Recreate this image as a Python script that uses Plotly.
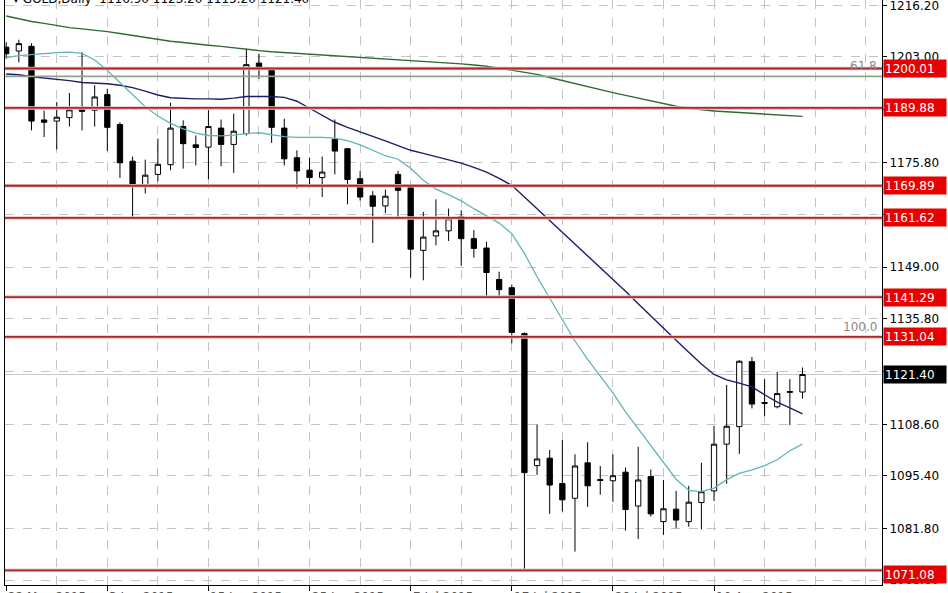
import plotly.graph_objects as go

# ---------------- data ----------------
bar_index = list(range(64))

opens = [1205.5, 1204.5, 1205.7, 1186.8, 1186.5, 1187.4, 1189.5, 1189.3, 1193.3, 1185.6,
         1176.2, 1170.0, 1172.8, 1175.3, 1185.1, 1180.4, 1179.8, 1184.7, 1180.5, 1183.3,
         1201.4, 1199.7, 1184.7, 1177.1, 1173.9, 1172.0, 1181.8, 1179.4, 1171.7, 1167.3,
         1164.7, 1172.8, 1169.4, 1153.3, 1157.0, 1158.3, 1162.0, 1156.3, 1153.9, 1145.8,
         1143.7, 1131.9, 1098.0, 1099.9, 1093.4, 1089.6, 1098.7, 1094.4, 1094.1, 1096.3,
         1087.6, 1095.2, 1083.6, 1086.8, 1083.6, 1088.5, 1091.5, 1103.5, 1108.0, 1124.7,
         1114.2, 1113.1, 1116.8, 1116.9]
highs = [1206.8, 1207.4, 1206.5, 1189.2, 1191.4, 1193.7, 1204.2, 1195.7, 1194.8, 1186.2,
         1177.4, 1176.6, 1182.0, 1191.2, 1186.7, 1182.8, 1189.3, 1186.9, 1188.4, 1205.1,
         1203.8, 1200.4, 1187.1, 1179.0, 1177.1, 1177.4, 1186.9, 1179.6, 1173.7, 1168.5,
         1168.9, 1173.7, 1169.7, 1163.2, 1166.4, 1164.0, 1163.6, 1158.5, 1155.5, 1147.8,
         1144.5, 1132.2, 1108.6, 1102.0, 1104.6, 1100.9, 1104.0, 1097.9, 1100.9, 1097.5,
         1102.8, 1097.0, 1094.3, 1091.5, 1092.8, 1098.7, 1108.2, 1118.7, 1125.1, 1125.9,
         1120.2, 1122.1, 1120.2, 1123.2]
lows = [1202.5, 1201.6, 1184.1, 1182.4, 1179.2, 1185.1, 1184.1, 1185.1, 1178.8, 1171.9,
        1161.6, 1167.9, 1171.0, 1173.9, 1174.3, 1175.1, 1171.5, 1174.9, 1173.2, 1182.8,
        1197.4, 1180.9, 1175.1, 1169.2, 1169.7, 1167.0, 1172.8, 1165.1, 1166.1, 1155.2,
        1162.9, 1161.7, 1146.3, 1145.6, 1154.6, 1155.7, 1149.3, 1151.4, 1141.3, 1141.0,
        1129.4, 1071.1, 1095.6, 1085.6, 1086.2, 1075.9, 1087.4, 1090.5, 1088.7, 1081.3,
        1079.1, 1084.9, 1080.2, 1081.9, 1082.3, 1081.6, 1088.9, 1093.3, 1101.0, 1112.7,
        1110.7, 1112.7, 1108.4, 1115.2]
closes = [1203.8, 1206.4, 1186.5, 1186.2, 1187.5, 1189.4, 1189.0, 1192.7, 1184.9, 1175.8,
          1169.8, 1172.6, 1175.4, 1184.7, 1180.7, 1179.7, 1185.1, 1180.5, 1183.9, 1201.0,
          1200.0, 1184.9, 1176.8, 1173.7, 1172.0, 1173.4, 1178.8, 1171.5, 1167.0, 1164.6,
          1167.2, 1168.7, 1153.6, 1156.7, 1158.3, 1161.4, 1156.3, 1153.8, 1147.6, 1143.2,
          1132.2, 1096.2, 1099.7, 1093.0, 1089.2, 1097.9, 1092.8, 1094.2, 1095.4, 1086.7,
          1094.3, 1085.6, 1086.9, 1084.0, 1088.6, 1091.3, 1103.5, 1108.1, 1124.8, 1113.8,
          1114.0, 1116.5, 1117.0, 1121.4]

ma_slow = [1213.5, 1212.8, 1212.1, 1211.6, 1211.0, 1210.5, 1210.2, 1209.9, 1209.5, 1209.0,
           1208.5, 1208.0, 1207.5, 1207.0, 1206.7, 1206.3, 1206.0, 1205.7, 1205.3, 1205.0,
           1204.6, 1204.3, 1204.1, 1203.9, 1203.7, 1203.5, 1203.3, 1203.1, 1202.9, 1202.7,
           1202.5, 1202.3, 1202.0, 1201.8, 1201.6, 1201.4, 1201.2, 1200.9, 1200.6, 1200.1,
           1199.5, 1199.0, 1198.5, 1197.7, 1196.9, 1196.1, 1195.3, 1194.5, 1193.8, 1193.1,
           1192.4, 1191.7, 1191.0, 1190.3, 1189.8, 1189.4, 1189.1, 1188.9, 1188.7, 1188.5,
           1188.3, 1188.1, 1187.9, 1187.7]
ma_mid = [1198.6, 1198.4, 1197.9, 1197.6, 1197.3, 1196.9, 1196.4, 1196.3, 1196.1, 1195.7,
          1195.1, 1194.2, 1193.2, 1192.5, 1192.3, 1192.2, 1192.2, 1192.1, 1192.4, 1192.8,
          1192.8, 1192.8, 1192.6, 1191.6, 1189.8, 1188.0, 1186.2, 1184.9, 1183.8, 1182.6,
          1181.4, 1180.2, 1179.0, 1178.2, 1177.4, 1176.6, 1175.7, 1174.6, 1173.4, 1171.8,
          1170.0, 1167.0, 1164.0, 1161.0, 1158.0, 1155.0, 1152.0, 1149.0, 1146.0, 1142.8,
          1139.6, 1136.4, 1133.3, 1130.2, 1127.1, 1124.1, 1121.4, 1120.0, 1119.2, 1118.2,
          1116.2, 1114.3, 1112.8, 1111.3]
ma_fast = [1202.8, 1203.3, 1203.6, 1203.9, 1204.1, 1204.2, 1203.9, 1202.2, 1199.5, 1196.4,
           1193.3, 1190.2, 1187.8, 1185.9, 1184.5, 1183.4, 1182.8, 1182.7, 1182.9, 1183.3,
           1183.5, 1183.0, 1182.5, 1182.3, 1182.3, 1182.3, 1182.1, 1181.5, 1180.4, 1179.0,
           1177.6, 1176.7, 1174.4, 1171.3, 1169.0, 1167.6, 1166.0, 1164.0, 1162.2, 1160.3,
           1157.6, 1152.5, 1146.5, 1141.0, 1135.5, 1130.0, 1125.3, 1121.0, 1116.7, 1111.8,
           1107.4, 1103.3, 1098.6, 1094.5, 1091.6, 1091.3, 1092.2, 1094.4, 1096.0, 1096.9,
           1098.0, 1099.5, 1101.8, 1103.5]

level_prices = [1200.01, 1189.88, 1169.89, 1161.62, 1141.29, 1131.04, 1071.08]
level_labels = ["1200.01", "1189.88", "1169.89", "1161.62", "1141.29", "1131.04", "1071.08"]
fib_prices = [1198.0, 1131.0]
fib_labels = ["61.8", "100.0"]
last_price = 1121.40
last_label = "1121.40"

y_tick_values = [1216.2, 1203.0, 1189.4, 1175.8, 1162.4, 1149.0, 1135.8, 1122.2,
                 1108.6, 1095.4, 1081.8, 1068.6]
y_tick_labels = ["1216.20", "1203.00", "", "1175.80", "", "1149.00", "1135.80", "",
                 "1108.60", "1095.40", "1081.80", "1068.60"]
date_ticks = [0, 8, 16, 24, 32, 40, 48, 56]
date_labels = ["22 May 2015", "3 Jun 2015", "15 Jun 2015", "25 Jun 2015",
               "7 Jul 2015", "17 Jul 2015", "29 Jul 2015", "10 Aug 2015"]
grid_ticks = list(range(4, 69, 4))
title_text = "GOLD,Daily  1116.90 1123.20 1115.20 1121.40"

FONT = "DejaVu Sans"

# ---------------- figure ----------------
fig = go.Figure()

fig.add_trace(go.Candlestick(
    x=bar_index, open=opens, high=highs, low=lows, close=closes,
    increasing=dict(line=dict(color="black", width=1), fillcolor="white"),
    decreasing=dict(line=dict(color="black", width=1), fillcolor="black"),
    whiskerwidth=0, showlegend=False, hoverinfo="skip",
))

fig.add_trace(go.Scatter(x=bar_index, y=ma_slow, mode="lines",
                         line=dict(color="#2f6a34", width=1.4), showlegend=False, hoverinfo="skip"))
fig.add_trace(go.Scatter(x=bar_index, y=ma_mid, mode="lines",
                         line=dict(color="#1c1f66", width=1.4), showlegend=False, hoverinfo="skip"))
fig.add_trace(go.Scatter(x=bar_index, y=ma_fast, mode="lines",
                         line=dict(color="#62b4b8", width=1.3), showlegend=False, hoverinfo="skip"))

shapes = []
# bid line
shapes.append(dict(type="line", xref="paper", x0=0, x1=1, yref="y", y0=last_price, y1=last_price,
                   line=dict(color="#c8c8c8", width=1), layer="below"))
# fibonacci level lines
for p in fib_prices:
    shapes.append(dict(type="line", xref="paper", x0=0, x1=1, yref="y", y0=p, y1=p,
                       line=dict(color="#8fa48f", width=1.6), layer="above"))
# red horizontal levels (halo + core)
for p in level_prices:
    shapes.append(dict(type="line", xref="paper", x0=0, x1=1, yref="y", y0=p, y1=p,
                       line=dict(color="#efc0c0", width=3.5), layer="above"))
    shapes.append(dict(type="line", xref="paper", x0=0, x1=1, yref="y", y0=p, y1=p,
                       line=dict(color="#a8292e", width=1.8), layer="above"))

annotations = []
for p, t in zip(level_prices, level_labels):
    shift = -4 if p == min(level_prices) else 0
    annotations.append(dict(xref="paper", x=1, xanchor="left", xshift=1, yref="y", y=p,
                            yanchor="middle", yshift=shift, text=t, showarrow=False, align="left",
                            bgcolor="#e80000", width=60, height=15, borderpad=1,
                            font=dict(family=FONT, size=12, color="white")))
annotations.append(dict(xref="paper", x=1, xanchor="left", xshift=1, yref="y", y=last_price,
                        yanchor="middle", text=last_label, showarrow=False, align="left",
                        bgcolor="black", width=60, height=15, borderpad=1,
                        font=dict(family=FONT, size=12, color="white")))
for p, t in zip(fib_prices, fib_labels):
    annotations.append(dict(xref="paper", x=1, xanchor="right", xshift=-3, yref="y", y=p,
                            yanchor="bottom", yshift=1, text=t, showarrow=False,
                            font=dict(family=FONT, size=12, color="#8a8a8a")))
for d, t in zip(date_ticks, date_labels):
    annotations.append(dict(xref="x", x=d, xanchor="left", yref="paper", y=0, yanchor="top",
                            yshift=-3, text=t, showarrow=False,
                            font=dict(family=FONT, size=12, color="#555555")))
annotations.append(dict(xref="paper", x=0, xanchor="left", xshift=6, yref="paper", y=1,
                        yanchor="middle", yshift=1, text="\u25be " + title_text, showarrow=False,
                        font=dict(family=FONT, size=12, color="black")))

fig.update_layout(
    width=948, height=593,
    margin=dict(l=5, r=66, t=0, b=8),
    paper_bgcolor="white", plot_bgcolor="white",
    boxgap=0.4,
    shapes=shapes, annotations=annotations,
    showlegend=False,
    xaxis=dict(
        range=[-0.095, 69.29], rangeslider=dict(visible=False),
        tickvals=date_ticks, ticktext=[""] * len(date_ticks),
        ticks="outside", ticklen=5, tickcolor="black",
        showline=True, linecolor="black", linewidth=1, mirror=False,
        showgrid=False, zeroline=False,
        minor=dict(tickvals=grid_ticks, showgrid=True, gridcolor="#c4c4c4",
                   griddash="dash", gridwidth=1, ticks=""),
    ),
    yaxis=dict(
        side="right", range=[1067.32, 1217.61],
        tickvals=y_tick_values, ticktext=y_tick_labels,
        ticks="outside", ticklen=4, tickcolor="black",
        tickfont=dict(family=FONT, size=12, color="black"),
        ticklabeloverflow="allow",
        showline=True, linecolor="black", linewidth=1, mirror=True,
        showgrid=True, gridcolor="#c4c4c4", griddash="dash", gridwidth=1,
        zeroline=False,
    ),
)

fig.write_html(
    "out.html",
    config={"displayModeBar": False},
    post_script="document.body.style.margin='0';document.body.style.padding='0';",
)
